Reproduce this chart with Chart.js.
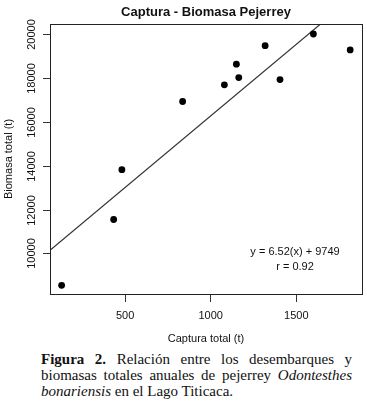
<!DOCTYPE html>
<html>
<head>
<meta charset="utf-8">
<script src="https://cdn.jsdelivr.net/npm/chart.js@4"></script>
<style>
  body { margin: 0; background: #fff; }
  #wrap { position: relative; width: 367px; height: 411px; }
  #caption {
    position: absolute; left: 41px; top: 351px; width: 311px; margin: 0;
    font-family: "Liberation Serif", "Times New Roman", serif; font-size: 15px;
    line-height: 16px; text-align: justify; color: #111;
  }
</style>
</head>
<body>
<div id="wrap">
  <canvas id="grafico" width="367" height="345"></canvas>
  <p id="caption"><b>Figura 2.</b> Relación entre los desembarques y biomasas totales anuales de pejerrey <i>Odontesthes bonariensis</i> en el Lago Titicaca.</p>
</div>
<script>
// datos
const captura = [129, 433, 481, 836, 1080, 1150, 1164, 1318, 1405, 1600, 1815];
const biomasa = [8545, 11545, 13818, 16923, 17682, 18623, 18014, 19468, 17923, 20000, 19273];
const ticksX = [500, 1000, 1500];
const ticksY = [10000, 12000, 14000, 16000, 18000, 20000];
const pendiente = 6.52;
const intercepto = 9749;
const coefR = 0.92;

const xMin = 61, xMax = 1884;
const yMin = 8150, yMax = 20455;

const puntos = captura.map((x, i) => ({ x: x, y: biomasa[i] }));
const recta = [xMin, xMax].map(x => ({ x: x, y: pendiente * x + intercepto }));

const sans = '"Liberation Sans", Arial, Helvetica, sans-serif';
const tinta = '#111';

const decorado = {
    id: 'decorado',
    afterDraw(chart) {
        const c = chart.ctx;
        const a = chart.chartArea;
        const sy = chart.scales.y;
        c.save();
        c.strokeStyle = '#222';
        c.lineWidth = 1;
        c.strokeRect(Math.round(a.left) + 0.5, Math.round(a.top) + 0.5,
            Math.round(a.right - a.left), Math.round(a.bottom - a.top));

        c.fillStyle = tinta;
        c.textAlign = 'center';
        c.textBaseline = 'middle';
        const cx = (a.left + a.right) / 2;

        // titulo
        c.font = 'bold 13px ' + sans;
        c.fillText('Captura - Biomasa Pejerrey', cx, 12);

        // marcas y etiquetas eje y giradas (estilo R)
        c.font = '11px ' + sans;
        c.strokeStyle = '#333';
        ticksY.forEach(v => {
            const py = Math.round(sy.getPixelForValue(v)) + 0.5;
            c.beginPath();
            c.moveTo(a.left - 7, py);
            c.lineTo(a.left, py);
            c.stroke();
            c.save();
            c.translate(32, py);
            c.rotate(-Math.PI / 2);
            c.fillText(String(v), 0, 0);
            c.restore();
        });

        // titulos de ejes
        c.fillText('Captura total (t)', cx, 339);
        c.save();
        c.translate(9, (a.top + a.bottom) / 2);
        c.rotate(-Math.PI / 2);
        c.fillText('Biomasa total (t)', 0, 0);
        c.restore();

        // ecuacion
        c.fillText('y = ' + pendiente + '(x) + ' + intercepto, 295, 252);
        c.fillText('r = ' + coefR, 295, 267);
        c.restore();
    }
};

new Chart(document.getElementById('grafico'), {
    type: 'scatter',
    data: {
        datasets: [{
            data: puntos,
            pointRadius: 3.4,
            pointBackgroundColor: '#000',
            pointBorderWidth: 0
        }, {
            type: 'line',
            data: recta,
            borderColor: '#333',
            borderWidth: 1.2,
            pointRadius: 0,
            fill: false,
            clip: 0
        }]
    },
    options: {
        responsive: false,
        animation: false,
        devicePixelRatio: 1,
        layout: { padding: { top: 24, right: 5, left: 0, bottom: 0 } },
        plugins: {
            legend: { display: false },
            tooltip: { enabled: false }
        },
        scales: {
            x: {
                type: 'linear',
                min: xMin,
                max: xMax,
                afterBuildTicks: s => { s.ticks = ticksX.map(v => ({ value: v })); },
                afterFit: s => { s.height = 51; },
                grid: { drawOnChartArea: false, tickLength: 8, color: '#333' },
                border: { display: false },
                ticks: {
                    padding: 7,
                    maxRotation: 0,
                    color: tinta,
                    font: { family: sans, size: 11 },
                    callback: v => String(v)
                }
            },
            y: {
                type: 'linear',
                min: yMin,
                max: yMax,
                afterBuildTicks: s => { s.ticks = ticksY.map(v => ({ value: v })); },
                afterFit: s => { s.width = 50; },
                grid: { display: false },
                border: { display: false },
                ticks: { display: false }
            }
        }
    },
    plugins: [decorado]
});
</script>
</body>
</html>
